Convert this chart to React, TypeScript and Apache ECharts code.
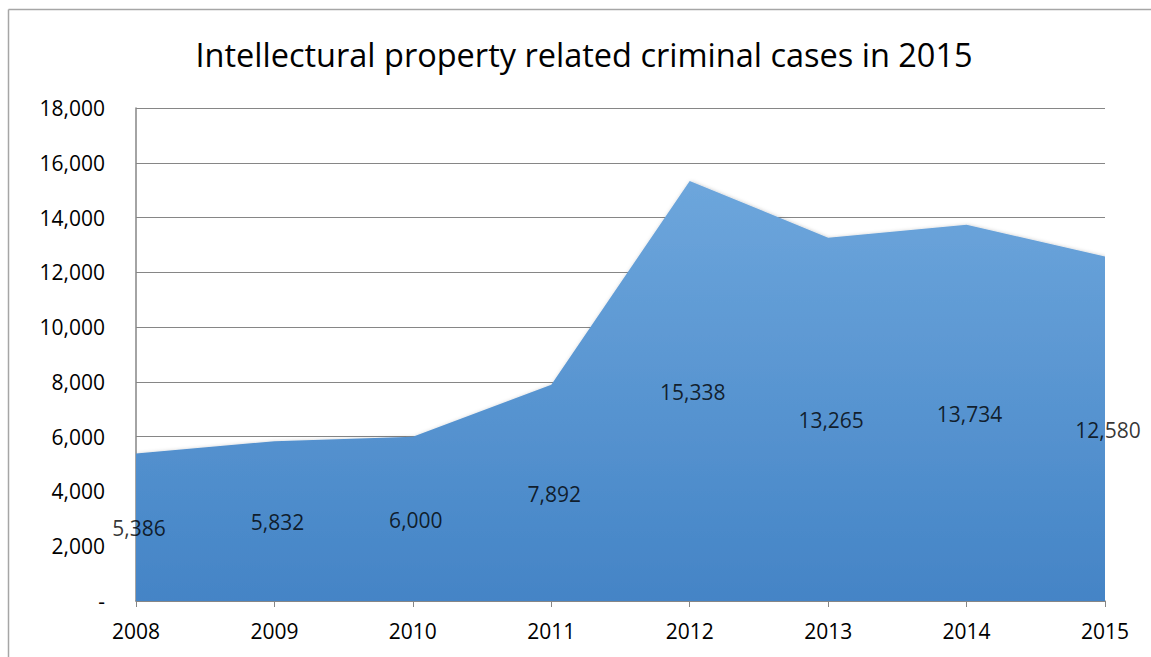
import React, { useEffect, useRef } from "react";
import * as echarts from "echarts";

const years = ["2008", "2009", "2010", "2011", "2012", "2013", "2014", "2015"];
const cases = [5386, 5832, 6000, 7892, 15338, 13265, 13734, 12580];
const titleText = "Intellectural property related criminal cases in 2015";

const fmt = (v: number) => (v === 0 ? "-" : v.toLocaleString("en-US"));
const FONT = "'Open Sans', 'Noto Sans', sans-serif";

export default function App() {
  const ref = useRef<HTMLDivElement>(null);
  useEffect(() => {
    const chart = echarts.init(ref.current!, null, { renderer: "svg" });
    chart.setOption({
      animation: false,
      backgroundColor: "#ffffff",
      title: {
        text: titleText,
        left: 579,
        top: 33,
        textAlign: "center",
        textStyle: { fontFamily: FONT, fontSize: 32.5, fontWeight: "normal", color: "#000" },
      },
      graphic: [
        { type: "line", shape: { x1: 8.5, y1: 9.5, x2: 8.5, y2: 700 }, style: { stroke: "#a6a6a6", lineWidth: 1.5 } },
        { type: "line", shape: { x1: 8.5, y1: 9.5, x2: 1200, y2: 9.5 }, style: { stroke: "#a6a6a6", lineWidth: 1.5 } },
      ],
      grid: { left: 136, right: 46, top: 108, bottom: 56 },
      xAxis: {
        type: "category",
        data: years,
        boundaryGap: false,
        axisLine: { lineStyle: { color: "#868686", width: 1.5 } },
        axisTick: { show: true, length: 6, lineStyle: { color: "#868686" } },
        axisLabel: { fontFamily: FONT, fontSize: 21, color: "#000", margin: 19 },
      },
      yAxis: {
        type: "value",
        min: 0,
        max: 18000,
        interval: 2000,
        axisLine: { show: true, lineStyle: { color: "#868686", width: 1.5 } },
        axisTick: { show: false },
        splitLine: { lineStyle: { color: "#868686", width: 1 } },
        axisLabel: { fontFamily: FONT, fontSize: 21, color: "#000", margin: 31, formatter: fmt },
      },
      series: [
        {
          type: "line",
          data: cases,
          symbol: "none",
          lineStyle: { width: 0 },
          areaStyle: {
            opacity: 1,
            color: new echarts.graphic.LinearGradient(0, 0, 0, 1, [
              { offset: 0, color: "#6da6dc" },
              { offset: 1, color: "#4484c6" },
            ]),
            shadowBlur: 4,
            shadowColor: "rgba(0,0,0,0.3)",
            shadowOffsetX: 1,
            shadowOffsetY: 1,
          },
          z: 2,
        },
        {
          type: "scatter",
          data: cases.map((v, i) => [i, v / 2, v]),
          symbolSize: 2,
          itemStyle: { color: "rgba(0,0,0,0)" },
          label: {
            show: true,
            position: "inside",
            offset: [3, 1],
            formatter: (p: any) => fmt(p.data[2]),
            fontFamily: FONT,
            fontSize: 21,
            color: "#000",
          },
          z: 5,
        },
      ],
    });
    return () => chart.dispose();
  }, []);
  return <div ref={ref} style={{ position: "fixed", left: 0, top: 0, width: 1151, height: 657 }} />;
}
